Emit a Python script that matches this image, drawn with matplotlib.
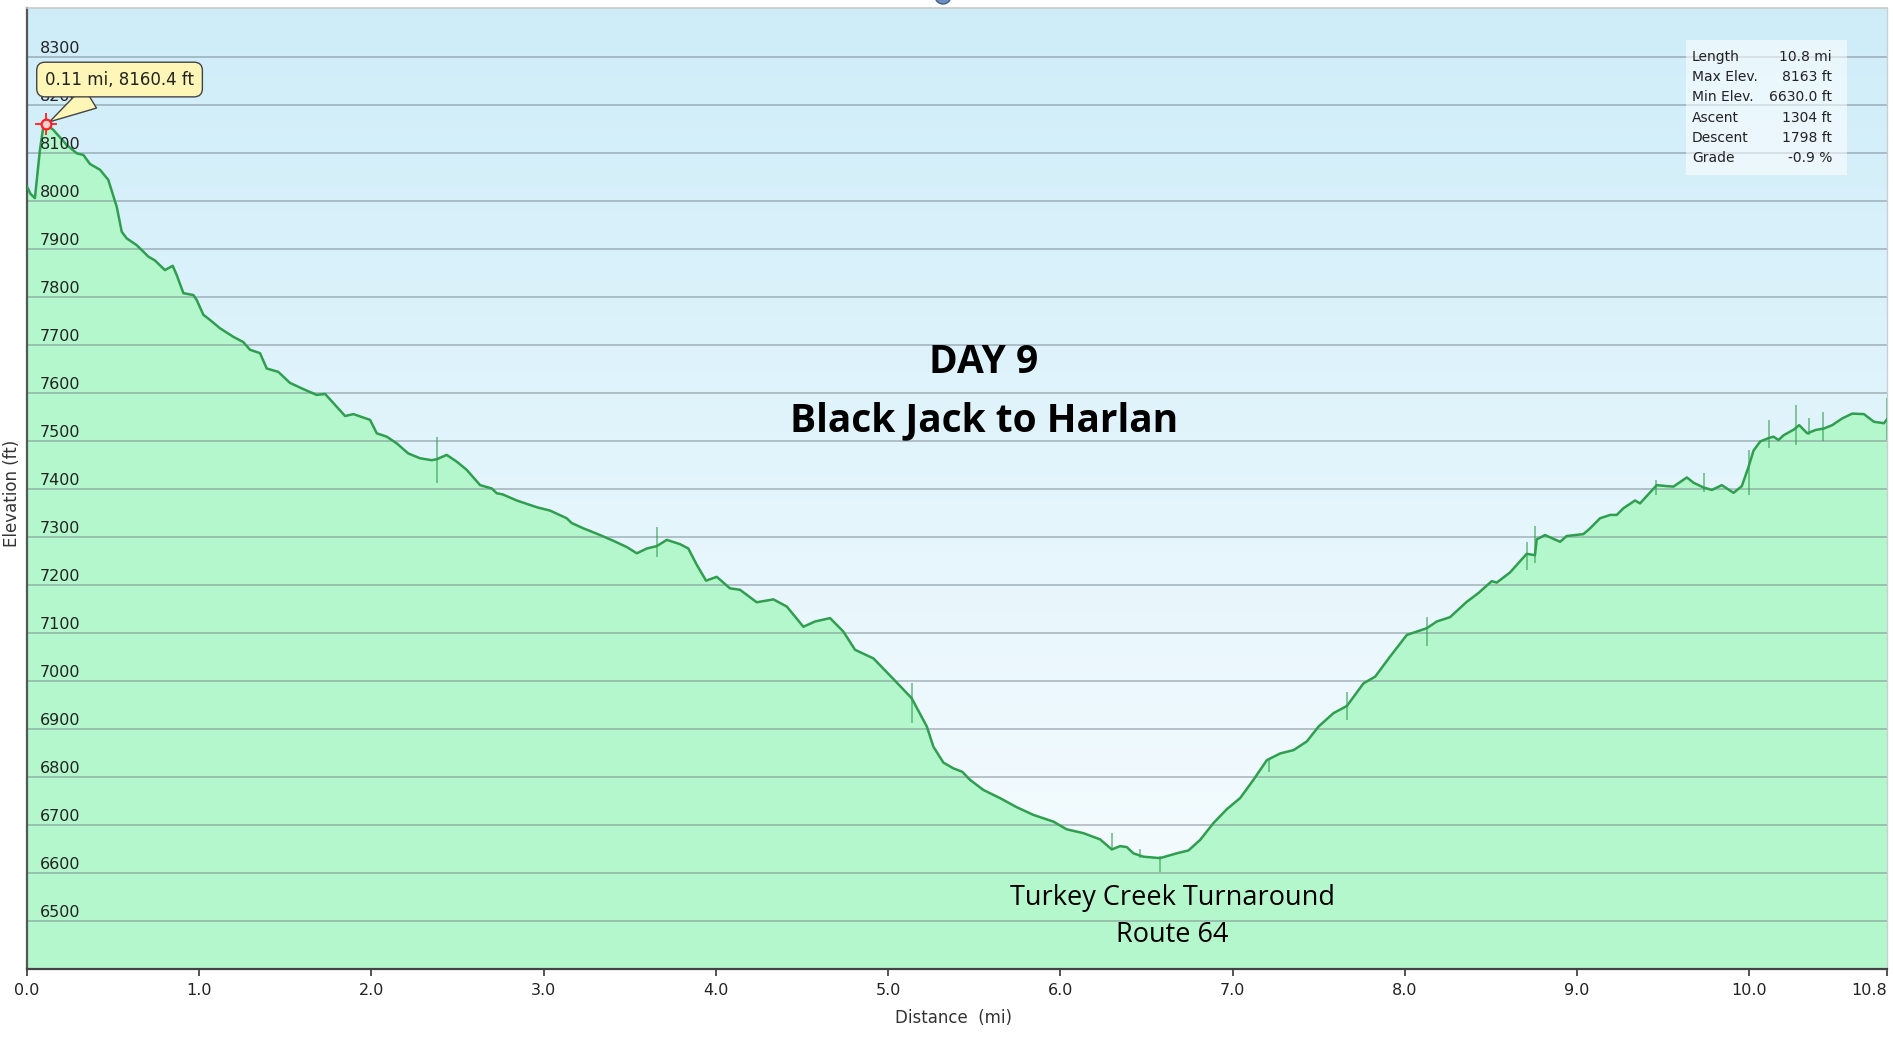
import numpy as np
import matplotlib
matplotlib.use("Agg")
import matplotlib.pyplot as plt
from matplotlib.patches import Rectangle, Ellipse

#elevation profile, day 9 (distance in mi, elevation in ft)
dist_mi = [0.0, 0.02, 0.046, 0.075, 0.095, 0.11, 0.153, 0.23, 0.29, 0.327, 0.366, 0.424, 0.472,
           0.521, 0.55, 0.579, 0.637, 0.705, 0.743, 0.801, 0.846, 0.869, 0.908, 0.966, 0.985,
           1.024, 1.063, 1.12, 1.198, 1.256, 1.295, 1.353, 1.392, 1.459, 1.527, 1.605, 1.682,
           1.731, 1.779, 1.847, 1.895, 1.992, 2.031, 2.089, 2.147, 2.214, 2.282, 2.35, 2.379,
           2.437, 2.495, 2.553, 2.631, 2.699, 2.728, 2.76, 2.844, 2.96, 3.037, 3.134, 3.163,
           3.231, 3.328, 3.405, 3.483, 3.541, 3.599, 3.657, 3.715, 3.792, 3.84, 3.889, 3.943,
           4.005, 4.082, 4.14, 4.237, 4.334, 4.412, 4.508, 4.576, 4.663, 4.74, 4.808, 4.915,
           5.031, 5.137, 5.225, 5.263, 5.321, 5.379, 5.43, 5.476, 5.553, 5.65, 5.747, 5.844,
           5.96, 6.037, 6.134, 6.231, 6.299, 6.347, 6.386, 6.424, 6.482, 6.579, 6.676, 6.744,
           6.812, 6.889, 6.967, 7.044, 7.121, 7.199, 7.276, 7.354, 7.431, 7.499, 7.586, 7.664,
           7.76, 7.828, 7.915, 8.012, 8.128, 8.186, 8.263, 8.36, 8.427, 8.505, 8.534, 8.611,
           8.708, 8.756, 8.766, 8.814, 8.902, 8.94, 9.037, 9.076, 9.134, 9.193, 9.231, 9.27,
           9.337, 9.366, 9.463, 9.521, 9.56, 9.638, 9.677, 9.735, 9.783, 9.841, 9.909, 9.957,
           9.996, 10.025, 10.064, 10.112, 10.141, 10.17, 10.2, 10.26, 10.29, 10.337, 10.386,
           10.434, 10.482, 10.54, 10.598, 10.666, 10.724, 10.782, 10.8]
elev_ft = [8030, 8015, 8006, 8106, 8155, 8160.4, 8148, 8117, 8099, 8096, 8077, 8065, 8044,
           7988, 7936, 7922, 7908, 7884, 7876, 7856, 7865, 7846, 7808, 7804, 7794,
           7763, 7752, 7735, 7717, 7706, 7690, 7683, 7651, 7644, 7621, 7608, 7596,
           7598, 7579, 7552, 7556, 7544, 7516, 7509, 7495, 7474, 7464, 7460, 7462,
           7471, 7457, 7440, 7408, 7401, 7391, 7389, 7376, 7362, 7355, 7339, 7329,
           7318, 7304, 7292, 7279, 7266, 7276, 7281, 7294, 7285, 7276, 7242, 7209,
           7217, 7193, 7190, 7164, 7170, 7155, 7113, 7124, 7131, 7103, 7065, 7047,
           7004, 6964, 6905, 6863, 6830, 6818, 6811, 6794, 6773, 6756, 6737, 6721,
           6707, 6691, 6683, 6670, 6649, 6656, 6654, 6641, 6634, 6631, 6641, 6647,
           6669, 6704, 6733, 6756, 6794, 6835, 6849, 6856, 6874, 6905, 6933, 6948,
           6995, 7009, 7051, 7096, 7110, 7124, 7133, 7165, 7183, 7208, 7205, 7226,
           7265, 7262, 7295, 7304, 7290, 7302, 7306, 7318, 7339, 7346, 7346, 7360,
           7376, 7370, 7408, 7406, 7405, 7424, 7413, 7403, 7398, 7408, 7392, 7406,
           7446, 7480, 7499, 7506, 7509, 7502, 7512, 7524, 7533, 7516, 7523,
           7526, 7533, 7547, 7557, 7556, 7540, 7537, 7545]

#GPS spikes (bad points), low and high value
spike_mi = [2.379, 3.657, 5.137, 6.299, 6.463, 6.579, 7.214, 7.664, 8.128, 8.711, 8.756,
            9.46, 9.74, 9.996, 10.112, 10.27, 10.345, 10.43, 10.8]
spike_lo = [7412, 7258, 6912, 6649, 6632, 6603, 6810, 6919, 7072, 7231, 7245,
            7387, 7394, 7387, 7485, 7492, 7512, 7499, 7502]
spike_hi = [7509, 7320, 6995, 6683, 6650, 6635, 6835, 6978, 7134, 7290, 7322,
            7419, 7433, 7481, 7544, 7575, 7547, 7561, 7589]

y_ticks = list(range(6500, 8301, 100))
x_ticks = [0.0, 1.0, 2.0, 3.0, 4.0, 5.0, 6.0, 7.0, 8.0, 9.0, 10.0, 10.8]
x_ticklabels = ["0.0", "1.0", "2.0", "3.0", "4.0", "5.0", "6.0", "7.0", "8.0", "9.0", "10.0", "10.8"]

#track summary
stat_names = ["Length", "Max Elev.", "Min Elev.", "Ascent", "Descent", "Grade"]
stat_values = ["10.8 mi", "8163 ft", "6630.0 ft", "1304 ft", "1798 ft", "-0.9 %"]

hover_mi = 0.11
hover_ft = 8160.4

fig = plt.figure(figsize=(18.93, 10.38), dpi=100)
ax = fig.add_axes([0.01426, 0.06647, 0.98257, 0.92582])

x_min, x_max = 0.0, 10.8
y_min, y_max = 6400, 8402
ax.set_xlim(x_min, x_max)
ax.set_ylim(y_min, y_max)

#sky gradient behind the profile
grad = np.linspace(0, 1, 256).reshape(-1, 1)
top_c = np.array([0.808, 0.929, 0.976])
bot_c = np.array([0.976, 0.992, 1.0])
sky = top_c[None, None, :] * (1 - grad[:, :, None]) + bot_c[None, None, :] * grad[:, :, None]
ax.imshow(sky, extent=[x_min, x_max, y_min, y_max], aspect="auto", origin="upper", zorder=0)

#profile
ax.fill_between(dist_mi, elev_ft, y_min, color="#b5f7cc", zorder=1, lw=0)
ax.vlines(spike_mi, spike_lo, spike_hi, color="#2f9e4f", alpha=0.6, lw=1.3, zorder=3)
ax.plot(dist_mi, elev_ft, color="#2f9e4f", lw=1.8, zorder=3)

#grid lines over everything
for v in y_ticks:
    ax.axhline(v, color="#6f7f88", alpha=0.45, lw=1.4, zorder=2)

#y labels sit inside the plot, above their grid line
for v in y_ticks:
    ax.annotate(str(v), xy=(0, v), xycoords=("axes fraction", "data"),
                xytext=(9.5, 3), textcoords="offset points",
                ha="left", va="baseline", fontsize=11.5, color="#222", zorder=4)

ax.set_yticks([])
ax.set_xticks(x_ticks)
ax.set_xticklabels(x_ticklabels, fontsize=11.5, color="#222")
ax.get_xticklabels()[-1].set_ha("right")
ax.tick_params(axis="x", direction="out", length=5, width=1.3, color="#444", pad=5)

ax.spines["left"].set_color("#555")
ax.spines["left"].set_linewidth(1.6)
ax.spines["bottom"].set_color("#444")
ax.spines["bottom"].set_linewidth(1.6)
ax.spines["top"].set_color("#c8c8c8")
ax.spines["top"].set_linewidth(1.2)
ax.spines["right"].set_color("#c8d0d4")
ax.spines["right"].set_linewidth(1.0)

fig.text(953 / 1893, 1 - 1018 / 1038, "Distance  (mi)", ha="center", va="center",
         fontsize=12, color="#333")
fig.text(12 / 1893, 1 - 493 / 1038, "Elevation (ft)", ha="center", va="center",
         rotation=90, fontsize=12, color="#333")

#title and turnaround note
ax.text(0.5145, 0.6307, "DAY 9", transform=ax.transAxes, ha="center", va="center",
        fontsize=28, fontweight="bold", family="Open Sans", color="black", zorder=6)
ax.text(0.5145, 0.5704, "Black Jack to Harlan", transform=ax.transAxes, ha="center", va="center",
        fontsize=28, fontweight="bold", family="Open Sans", color="black", zorder=6)
ax.text(0.6156, 0.0740, "Turkey Creek Turnaround", transform=ax.transAxes, ha="center",
        va="center", fontsize=19.5, family="Open Sans", color="black", zorder=6)
ax.text(0.6156, 0.0355, "Route 64", transform=ax.transAxes, ha="center",
        va="center", fontsize=19.5, family="Open Sans", color="black", zorder=6)

#summary box
ax.add_patch(Rectangle((0.8919, 0.8262), 0.0866, 0.1405, transform=ax.transAxes,
                       fc="white", ec="none", alpha=0.55, zorder=5))
for i, (name, val) in enumerate(zip(stat_names, stat_values)):
    yy = 0.9493 - i * 0.0211
    ax.text(0.8952, yy, name, transform=ax.transAxes, ha="left", va="center",
            fontsize=10, color="#222", zorder=6)
    ax.text(0.9704, yy, val, transform=ax.transAxes, ha="right", va="center",
            fontsize=10, color="#222", zorder=6)

#hover tooltip at the high point
ax.annotate(f"{hover_mi:.2f} mi, {hover_ft:.1f} ft", xy=(hover_mi, hover_ft),
            xytext=(53, 32), textcoords="offset points", ha="center", va="center",
            fontsize=12, color="#222", zorder=8,
            bbox=dict(boxstyle="round,pad=0.5,rounding_size=0.5", fc="#fdf6b6", ec="#444", lw=1.0),
            arrowprops=dict(arrowstyle="wedge,tail_width=1.5,shrink_factor=0.5",
                            fc="#fdf6b6", ec="#444", lw=1.0, shrinkA=0, shrinkB=3))
ax.plot(hover_mi, hover_ft, marker="+", ms=16, mew=1.3, color="#ff2020", zorder=9)
ax.plot(hover_mi, hover_ft, marker="o", ms=7, mfc="#ffd0d0", mec="#ff2020", mew=1.6, zorder=9)

#chart control peeking at the top edge
fig.add_artist(Ellipse((943 / 1893, 1 + 4 / 1038), 16 / 1893, 16 / 1038,
                       transform=fig.transFigure, fc="#6f8fbf", ec="#3d5f8f", lw=1.0))

fig.savefig("out.png", dpi=100)
